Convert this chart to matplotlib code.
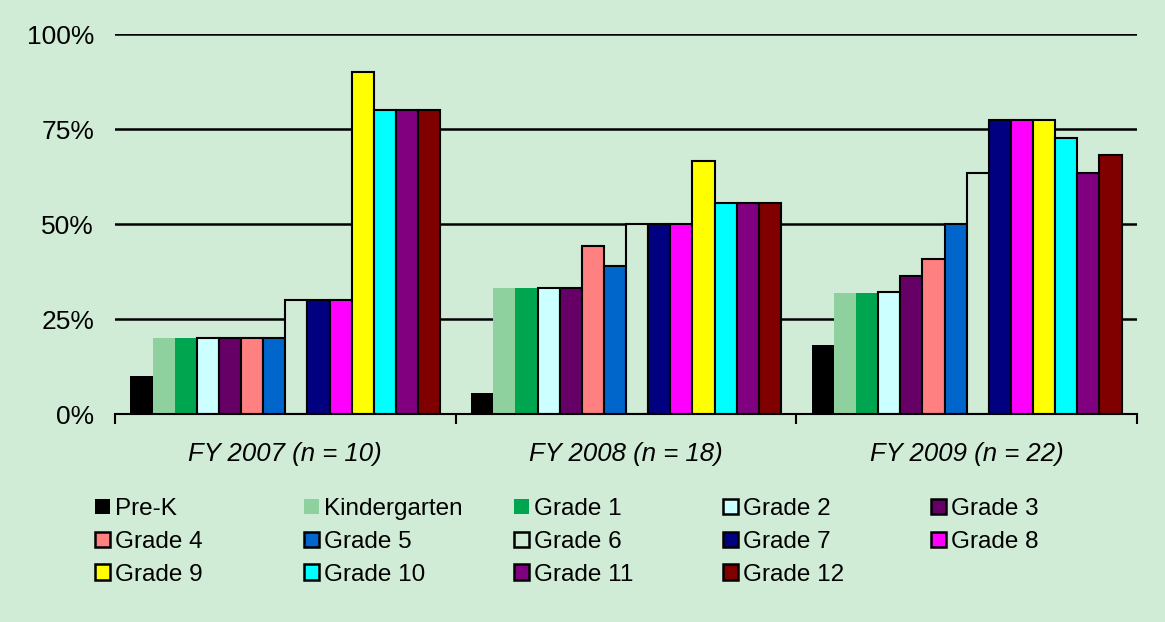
import matplotlib.pyplot as plt
import numpy as np
from matplotlib.patches import Patch

years = ['FY 2007 (n = 10)', 'FY 2008 (n = 18)', 'FY 2009 (n = 22)']
grades = ['Pre-K', 'Kindergarten', 'Grade 1', 'Grade 2', 'Grade 3', 'Grade 4', 'Grade 5',
          'Grade 6', 'Grade 7', 'Grade 8', 'Grade 9', 'Grade 10', 'Grade 11', 'Grade 12']

# percent per grade, one list per year
fy2007 = [10, 20, 20, 20, 20, 20, 20, 30, 30, 30, 90, 80, 80, 80]
fy2008 = [5.6, 33.3, 33.3, 33.3, 33.3, 44.4, 38.9, 50, 50, 50, 66.7, 55.6, 55.6, 55.6]
fy2009 = [18.2, 31.8, 31.8, 32.1, 36.4, 40.9, 50, 63.6, 77.3, 77.3, 77.3, 72.7, 63.6, 68.2]

bg = '#D0EBD6'
colors = ['#000000', '#8FD19E', '#00A550', '#CCFFFF', '#660066', '#FF8080', '#0066CC',
          bg, '#000080', '#FF00FF', '#FFFF00', '#00FFFF', '#800080', '#800000']
no_edge = ['Pre-K', 'Kindergarten', 'Grade 1']

plt.rcParams['font.family'] = ['Liberation Sans', 'DejaVu Sans']

fig = plt.figure(figsize=(11.65, 6.22), dpi=100, facecolor=bg)
ax = fig.add_axes([0.0987, 0.334, 0.8773, 0.611], facecolor=bg)

data = np.array([fy2007, fy2008, fy2009])
n = len(grades)
w = 1 / (n + 1.4)
x = np.arange(len(years))

handles = []
for i, g in enumerate(grades):
    ec = 'none' if g in no_edge else 'black'
    ax.bar(x + (i - (n - 1) / 2) * w, data[:, i], width=w, color=colors[i],
           edgecolor=ec, linewidth=1.5, zorder=3)
    handles.append(Patch(facecolor=colors[i], edgecolor=ec, linewidth=1.8, label=g))

ax.set_xlim(-0.5, 2.5)
ax.set_ylim(0, 100)
ax.set_yticks([0, 25, 50, 75, 100])
ax.set_yticklabels(['0%', '25%', '50%', '75%', '100%'], fontsize=19)
ax.tick_params(axis='y', length=0, pad=15)
for v in [25, 50, 75, 100]:
    ax.axhline(v, color='black', linewidth=1.8, zorder=1)

ax.set_xticks([-0.5, 0.5, 1.5, 2.5])
ax.set_xticklabels([])
ax.tick_params(axis='x', which='major', length=7, width=1.5, direction='out')
ax.set_xticks(x, minor=True)
ax.set_xticklabels(years, minor=True, fontsize=18.5, style='italic')
ax.tick_params(axis='x', which='minor', length=0, pad=20)

for s in ['top', 'right', 'left']:
    ax.spines[s].set_visible(False)
ax.spines['bottom'].set_linewidth(1.5)
ax.spines['bottom'].set_zorder(4)

# legend laid out in 5 columns, filled row by row
col_x = [95, 304, 514, 723, 931]
for c in range(5):
    items = [handles[r * 5 + c] for r in range(3) if r * 5 + c < n]
    fig.legend(handles=items, loc='upper left',
               bbox_to_anchor=(col_x[c] / 1165, 1 - 498 / 622),
               frameon=False, fontsize=17.5, handlelength=0.62, handleheight=0.62,
               handletextpad=0.2, labelspacing=0.45, borderpad=0, borderaxespad=0)

fig.savefig('out.png', dpi=100, facecolor=bg)
